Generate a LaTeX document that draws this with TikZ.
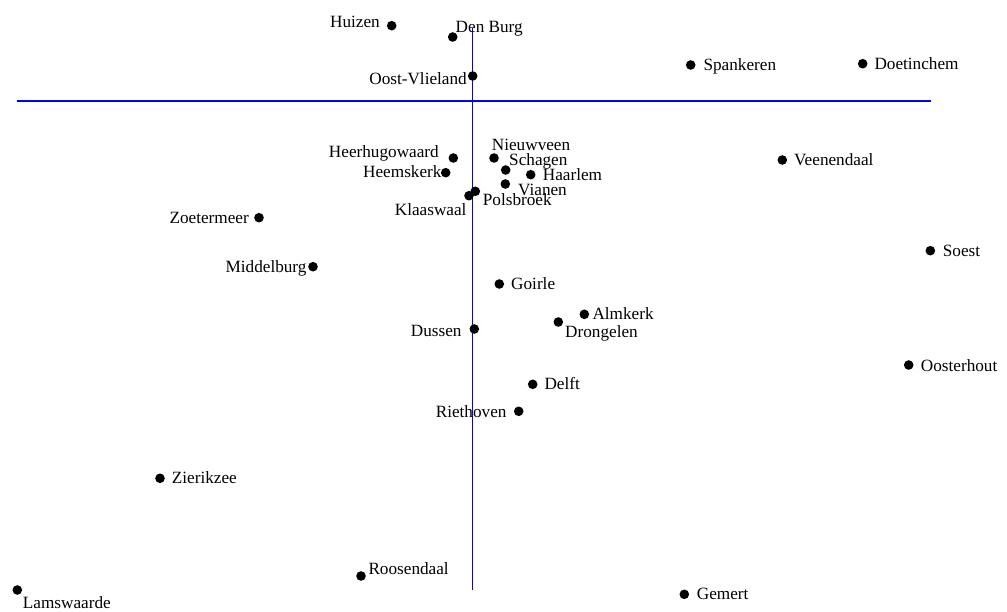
\documentclass[tikz,border=0pt]{standalone}
\usepackage{fontspec}
\setmainfont{Liberation Serif}
\newcommand\city[7]{%
  \node[dot] (d-#1) at (#2,#3) {};
  \node[lbl, anchor=#4] (l-#1) at (#5,#6) {#7};
}
\begin{document}
\begin{tikzpicture}[x=1pt,y=-1pt,
  dot/.style={circle, fill=black, inner sep=0pt, minimum size=9.6pt},
  lbl/.style={inner sep=0pt, yshift=-2pt, font=\fontsize{17.2}{20}\selectfont},
  axis/.style={draw=blue, line width=1.1pt}]
\useasboundingbox (0,0) rectangle (1007,612);
\coordinate (h1) at (17,101);
\coordinate (h2) at (931,101);
\coordinate (v1) at (472.5,28);
\coordinate (v2) at (472.5,589.5);
\draw[axis] (h1) -- (h2);
\draw[axis] (v1) -- (v2);
\city{huizen}{391.7}{25.7}{base east}{380}{26}{Huizen}
\city{denburg}{452.7}{37}{base west}{455.5}{30.7}{Den Burg}
\city{oostvlieland}{472.7}{76}{base east}{467}{82.7}{Oost-Vlieland}
\city{spankeren}{690.7}{65}{base west}{703.3}{68.3}{Spankeren}
\city{doetinchem}{862.7}{63.7}{base west}{874.3}{67.3}{Doetinchem}
\city{heerhugowaard}{453.3}{158}{base east}{439}{156}{Heerhugowaard}
\city{heemskerk}{445.7}{172.7}{base east}{441.7}{175.7}{Heemskerk}
\city{nieuwveen}{494}{158}{base west}{491.7}{148.3}{Nieuwveen}
\city{schagen}{505.7}{170}{base west}{509}{163.3}{Schagen}
\city{haarlem}{530.7}{174.7}{base west}{542.7}{178.3}{Haarlem}
\city{vianen}{505.3}{184}{base west}{518}{193.3}{Vianen}
\city{polsbroek}{475.3}{191.3}{base west}{482.7}{204}{Polsbroek}
\city{klaaswaal}{469}{195.7}{base east}{466.7}{213.3}{Klaaswaal}
\city{veenendaal}{782.3}{160}{base west}{794}{163.3}{Veenendaal}
\city{zoetermeer}{259}{217.7}{base east}{249}{221.7}{Zoetermeer}
\city{middelburg}{313}{266.7}{base east}{306.7}{271}{Middelburg}
\city{soest}{930.3}{250.7}{base west}{942.7}{255}{Soest}
\city{goirle}{499.3}{284}{base west}{511}{287.3}{Goirle}
\city{almkerk}{584.3}{314.3}{base west}{592.3}{317.7}{Almkerk}
\city{drongelen}{558.3}{322}{base west}{565}{335.7}{Drongelen}
\city{dussen}{474.3}{329}{base east}{461.7}{335}{Dussen}
\city{oosterhout}{908.7}{365}{base west}{920.7}{369.3}{Oosterhout}
\city{delft}{532.7}{384.3}{base west}{544.3}{387.7}{Delft}
\city{riethoven}{518.7}{411.3}{base east}{506.7}{415}{Riethoven}
\city{zierikzee}{160}{478.3}{base west}{171.7}{481.7}{Zierikzee}
\city{roosendaal}{361}{576}{base west}{368.3}{572.3}{Roosendaal}
\city{lamswaarde}{17.3}{590}{base west}{22.7}{606}{Lamswaarde}
\city{gemert}{684.3}{594.3}{base west}{696.7}{597.3}{Gemert}
\end{tikzpicture}
\end{document}
